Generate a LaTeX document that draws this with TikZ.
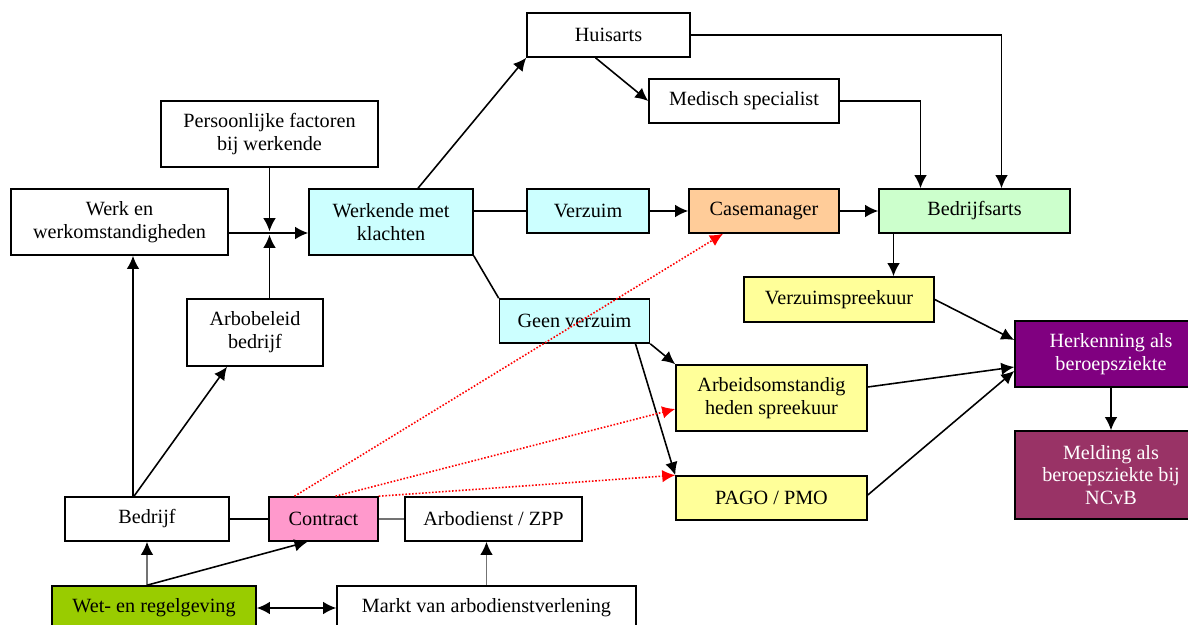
\documentclass[tikz,border=0pt]{standalone}
\usepackage{fontspec}
\setmainfont{Liberation Serif}
\usepackage{tikz}
\usetikzlibrary{arrows,arrows.meta,positioning,calc}

\definecolor{lcyan}{RGB}{204,255,255}
\definecolor{lorange}{RGB}{255,204,153}
\definecolor{lgreen}{RGB}{204,255,204}
\definecolor{lyellow}{RGB}{255,255,153}
\definecolor{dpurple}{RGB}{128,0,128}
\definecolor{dplum}{RGB}{153,51,102}
\definecolor{lpink}{RGB}{255,153,204}
\definecolor{lime}{RGB}{153,204,0}

\begin{document}
\begin{tikzpicture}[x=0.02cm,y=-0.02cm,
  font=\fontsize{11.5}{13}\selectfont,
  box/.style={shape=rectangle,draw,line width=0.9pt,fill=white,align=center,
    inner sep=1pt,minimum height=0.88cm},
  arr/.style={line width=0.9pt,-{Latex[length=2.6mm,width=2.5mm]}},
  dblarr/.style={line width=0.9pt,{Latex[length=2.6mm,width=2.5mm]}-{Latex[length=2.6mm,width=2.5mm]}},
  grarr/.style={line width=0.9pt,black!55,-{Latex[length=2.6mm,width=2.5mm,black]}},
  redarr/.style={line width=0.9pt,red,densely dotted,-{Latex[length=2.6mm,width=2.5mm]}}]

\useasboundingbox (0,0) rectangle (1188,625);
\clip (0,0) rectangle (1188,625);

\node[box,minimum width=3.26cm] (HA) at (608.5,35) {Huisarts};
\node[box,minimum width=3.8cm] (MS) at (744,101) {Medisch specialist};
\node[box,minimum width=4.34cm,minimum height=1.32cm] (PF) at (269.5,134) {Persoonlijke factoren\\bij werkende};
\node[box,minimum width=4.34cm,minimum height=1.32cm] (WW) at (119.5,222) {Werk en\\werkomstandigheden};
\node[box,fill=lcyan,minimum width=3.28cm,minimum height=1.32cm] (WK) at (391,222) {Werkende met\\klachten};
\node[box,fill=lcyan,minimum width=2.44cm] (VZ) at (588,211) {Verzuim};
\node[box,fill=lorange,minimum width=3cm] (CM) at (764,211) {Casemanager};
\node[box,fill=lgreen,minimum width=3.82cm] (BA) at (974.5,211) {Bedrijfsarts};
\node[box,fill=lyellow,minimum width=3.8cm,minimum height=0.9cm] (VS) at (839,299.5) {Verzuimspreekuur};
\node[box,fill=lcyan,minimum width=3cm] (GV) at (574.5,321) {Geen verzuim};
\node[box,minimum width=2.72cm,minimum height=1.34cm] (AB) at (255,332.5) {Arbobeleid\\bedrijf};
\node[box,fill=dpurple,text=white,minimum width=3.84cm,minimum height=1.32cm] (HB) at (1111,354) {Herkenning als\\beroepsziekte};
\node[box,fill=lyellow,minimum width=3.82cm,minimum height=1.32cm] (AS) at (771.5,398) {Arbeidsomstandig\\heden spreekuur};
\node[box,fill=dplum,text=white,minimum width=3.84cm,minimum height=1.76cm] (MB) at (1111,475) {Melding als\\beroepsziekte bij\\NCvB};
\node[box,fill=lyellow,minimum width=3.82cm] (PP) at (771.5,498) {PAGO / PMO};
\node[box,minimum width=3.28cm] (BR) at (147,519) {Bedrijf};
\node[box,fill=lpink,minimum width=2.18cm] (CT) at (323.5,519) {Contract};
\node[box,minimum width=3.54cm] (AD) at (493.5,519) {Arbodienst / ZPP};
\node[box,fill=lime,minimum width=4.08cm] (WR) at (154,608) {Wet- en regelgeving};
\node[box,minimum width=5.98cm] (MA) at (486.5,608) {Markt van arbodienstverlening};

\coordinate (J) at (269.5,233);

% naar werkende met klachten
\draw[arr] (WW.east |- J) -- (WK.west |- J);
\draw[arr,shorten >=1pt] (PF.south) -- (J);
\draw[arr,shorten >=1pt] (AB.north -| J) -- (J);

\draw[arr] ($(WK.north)+(27,0)$) -- (HA.south west);
\draw[line width=0.9pt] (WK.east |- VZ.west) -- (VZ.west);
\draw[line width=0.9pt] (WK.south east) -- (GV.north west);
\draw[arr] (VZ.east) -- (CM.west);
\draw[arr] (CM.east) -- (BA.west);
\draw[arr] ($(HA.south)+(-13,0)$) -- (MS.west);
\draw[arr] (HA.east) -| ($(BA.north)+(27,0)$);
\draw[arr] (MS.east) -| ($(BA.north)+(-54,0)$);
\draw[arr] ($(BA.south)+(-81,0)$) coordinate (t) -- (t |- VS.north);

% herkenning
\draw[arr] (VS.east) -- ($(HB.west)+(0,-14)$);
\draw[arr] ($(AS.east)+(0,-11)$) -- ($(HB.west)+(0,13)$);
\draw[arr] ($(PP.east)+(0,-3)$) -- ($(HB.west)+(0,17)$);
\draw[arr] (HB.south) -- (MB.north);

\draw[arr] (GV.south east) -- (AS.north west);
\draw[arr] ($(GV.south)+(61,0)$) -- (PP.north west);

% contract
\draw[redarr] ($(CT.north)+(-29,0)$) -- ($(CM.south)+(-41,0)$);
\draw[redarr] ($(CT.north)+(12,0)$) -- ($(AS.west)+(0,11)$);
\draw[redarr] (CT.north east) -- (PP.north west);

% onderkant
\draw[arr] ($(BR.north)+(-14,0)$) -- ($(WW.south)+(13.5,0)$);
\draw[arr] ($(BR.north)+(-13,0)$) -- ($(AB.south)+(-28,0)$);
\draw[line width=0.9pt] (BR.east) -- (CT.west);
\draw[line width=0.9pt,black!55] (CT.east) -- (AD.west);
\draw[grarr] (WR.north -| BR.south) -- (BR.south);
\draw[arr] ($(WR.north)+(-7,0)$) -- ($(CT.south)+(-16,0)$);
\draw[dblarr] (WR.east) -- (MA.west);
\draw[grarr] (MA.north) -- (MA.north |- AD.south);
\end{tikzpicture}
\end{document}
